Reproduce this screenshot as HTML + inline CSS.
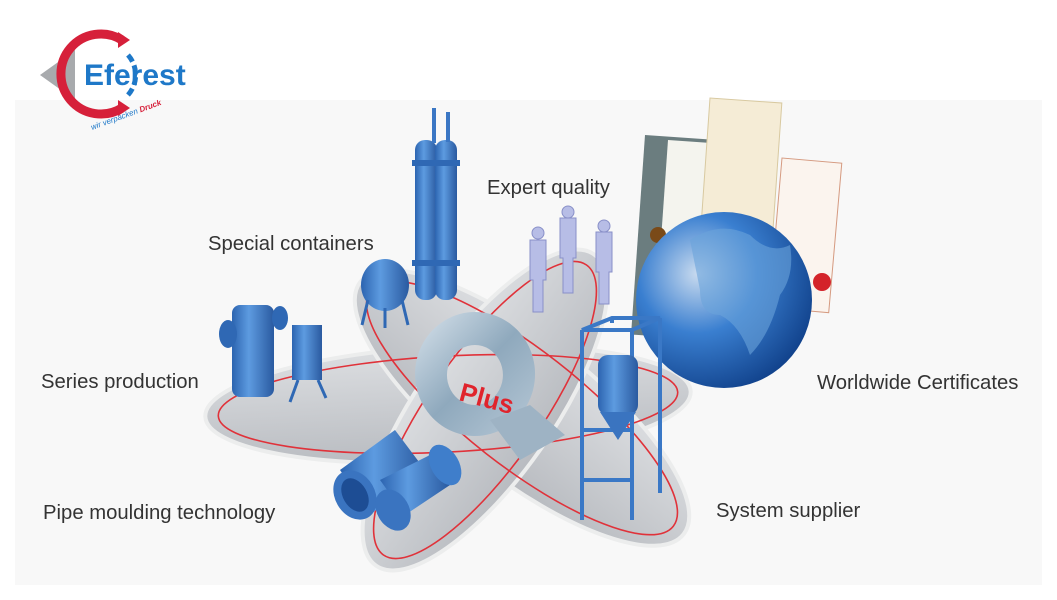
<!DOCTYPE html>
<html><head><meta charset="utf-8"><style>
html,body{margin:0;padding:0;background:#fff;width:1057px;height:600px;overflow:hidden}
svg{position:absolute;left:0;top:0}
.t{font-family:"Liberation Sans",sans-serif;font-size:20.3px;fill:#333}
</style></head><body>
<svg width="1057" height="600" viewBox="0 0 1057 600">
<defs>
<linearGradient id="plat" x1="0" y1="0" x2="0" y2="1"><stop offset="0" stop-color="#dcdee1"/><stop offset="1" stop-color="#b8bbc0"/></linearGradient>
<linearGradient id="blue" x1="0" y1="0" x2="1" y2="0"><stop offset="0" stop-color="#2c64b0"/><stop offset=".4" stop-color="#5d9be0"/><stop offset="1" stop-color="#2a5aa0"/></linearGradient>
<radialGradient id="globe" cx=".35" cy=".35" r=".75"><stop offset="0" stop-color="#c9dbef"/><stop offset=".45" stop-color="#3a7fd0"/><stop offset="1" stop-color="#0d3c85"/></radialGradient>
<linearGradient id="q" x1="0" y1="0" x2="1" y2="1"><stop offset="0" stop-color="#d8e3ec"/><stop offset=".5" stop-color="#8fa9bd"/><stop offset="1" stop-color="#b7c8d6"/></linearGradient>
</defs>
<rect x="15" y="100" width="1027" height="485" fill="#f8f8f8"/>
<!-- logo -->
<path d="M40 75 L75 50 L75 100 Z" fill="#a8aaad"/>
<path d="M122 40 A40 40 0 1 0 122 108" fill="none" stroke="#d6203a" stroke-width="9"/>
<path d="M118 32 l12 8 -12 8z M118 100 l12 8 -12 8z" fill="#d6203a"/>
<path d="M128 55 A30 30 0 0 1 128 95" fill="none" stroke="#1e78c8" stroke-width="5" stroke-dasharray="8 4"/>
<text x="84" y="85" font-family="Liberation Sans,sans-serif" font-weight="bold" font-size="30" fill="#1e78c8">Eferest</text>
<text x="92" y="130" font-family="Liberation Sans,sans-serif" font-size="8" font-style="italic" fill="#1e78c8" transform="rotate(-20 92 130)">wir verpacken <tspan fill="#d6203a" font-weight="bold">Druck</tspan></text>
<!-- platforms -->
<g stroke="#eceded" stroke-width="4">
<ellipse cx="448" cy="404" rx="243" ry="58" transform="rotate(-3 448 404)" fill="url(#plat)"/>
<ellipse cx="522" cy="408" rx="205" ry="70" transform="rotate(38 522 408)" fill="url(#plat)"/>
<ellipse cx="485" cy="410" rx="190" ry="68" transform="rotate(-55 485 410)" fill="url(#plat)"/>
</g>
<g fill="none" stroke="#e0323a" stroke-width="1.6">
<ellipse cx="448" cy="404" rx="230" ry="48" transform="rotate(-3 448 404)"/>
<ellipse cx="522" cy="408" rx="192" ry="58" transform="rotate(38 522 408)"/>
<ellipse cx="485" cy="410" rx="177" ry="56" transform="rotate(-55 485 410)"/>
</g>
<!-- certificates -->
<rect x="645" y="135" width="65" height="200" fill="#6b7d7f" transform="rotate(4 645 135)"/>
<rect x="668" y="140" width="45" height="190" fill="#f4f4ee" transform="rotate(4 668 140)"/>
<rect x="710" y="98" width="72" height="200" fill="#f5ecd6" stroke="#d8c9a0" transform="rotate(4 710 98)"/>
<rect x="782" y="158" width="60" height="150" fill="#fbf4ee" stroke="#d59a80" transform="rotate(5 782 158)"/>
<circle cx="822" cy="282" r="9" fill="#d4232a"/>
<circle cx="658" cy="235" r="8" fill="#7a4a18"/>
<!-- globe -->
<circle cx="724" cy="300" r="88" fill="url(#globe)"/>
<path d="M690 240 q30 -20 60 -5 q20 20 40 10 q5 30 -10 50 q-10 40 -30 60 q-10 -30 -30 -40 q-20 0 -20 -25 z" fill="#6aa3da" opacity=".6"/>
<!-- tall column -->
<rect x="415" y="140" width="22" height="160" rx="10" fill="url(#blue)"/>
<rect x="435" y="140" width="22" height="160" rx="10" fill="url(#blue)"/>
<rect x="412" y="160" width="48" height="6" fill="#2f68b4"/>
<rect x="412" y="260" width="48" height="6" fill="#2f68b4"/>
<rect x="432" y="108" width="4" height="35" fill="#3b77c4"/><rect x="446" y="112" width="4" height="30" fill="#3b77c4"/>
<!-- sphere tank -->
<ellipse cx="385" cy="285" rx="24" ry="26" fill="url(#blue)"/>
<path d="M368 300 l-6 25 M402 300 l6 25 M385 308 v20" stroke="#2f68b4" stroke-width="3"/>
<!-- series production -->
<rect x="232" y="305" width="42" height="92" rx="8" fill="url(#blue)"/>
<ellipse cx="228" cy="334" rx="9" ry="14" fill="#2f68b4"/>
<ellipse cx="280" cy="318" rx="8" ry="12" fill="#2f68b4"/>
<rect x="292" y="325" width="30" height="55" fill="url(#blue)"/>
<path d="M298 380 l-8 22 M318 380 l8 18" stroke="#2f68b4" stroke-width="3"/>
<!-- workers -->
<g fill="#b7bde6" stroke="#8990c8">
<path d="M530 240 h16 v40 h-3 v32 h-10 v-32 h-3z"/><circle cx="538" cy="233" r="6"/>
<path d="M560 218 h16 v40 h-3 v35 h-10 v-35 h-3z"/><circle cx="568" cy="212" r="6"/>
<path d="M596 232 h16 v40 h-3 v32 h-10 v-32 h-3z"/><circle cx="604" cy="226" r="6"/>
</g>
<!-- Q -->
<path d="M475 312 a60 62 0 1 0 0.1 0 z M475 345 a28 30 0 1 1 -0.1 0 z" fill="url(#q)" fill-rule="evenodd"/>
<path d="M490 420 l40 -15 l35 30 l-45 25 z" fill="#9eb3c4"/>
<text x="458" y="400" font-family="Liberation Sans,sans-serif" font-weight="bold" font-size="26" fill="#e0242c" transform="rotate(15 458 400)">Plus</text>
<!-- pipes -->
<path d="M340 470 l55 -40 l30 40 l-55 45 z" fill="url(#blue)"/>
<ellipse cx="355" cy="495" rx="20" ry="26" transform="rotate(-30 355 495)" fill="#3a74c0"/>
<ellipse cx="355" cy="495" rx="12" ry="18" transform="rotate(-30 355 495)" fill="#1d4d94"/>
<path d="M380 480 l50 -25 l20 30 l-45 30 z" fill="url(#blue)"/>
<ellipse cx="393" cy="510" rx="16" ry="22" transform="rotate(-30 393 510)" fill="#3a74c0"/>
<ellipse cx="445" cy="465" rx="14" ry="22" transform="rotate(-30 445 465)" fill="#3f7ecb"/>
<!-- system supplier frame -->
<g stroke="#3a78c6" stroke-width="4" fill="none">
<path d="M582 330 v190 M632 330 v190 M660 318 v175 M612 318 v5 M582 330 h50 l28 -12 h-48 z"/>
<path d="M582 430 h50 M582 480 h50"/>
</g>
<rect x="598" y="355" width="40" height="60" rx="10" fill="url(#blue)"/>
<path d="M600 412 l18 28 l18 -28z" fill="#3a74c0"/>
<!-- labels -->
<text class="t" x="208" y="250">Special containers</text>
<text class="t" x="487" y="194">Expert quality</text>
<text class="t" x="41" y="388">Series production</text>
<text class="t" x="817" y="389">Worldwide Certificates</text>
<text class="t" x="43" y="519">Pipe moulding technology</text>
<text class="t" x="716" y="517">System supplier</text>
</svg>
</body></html>
